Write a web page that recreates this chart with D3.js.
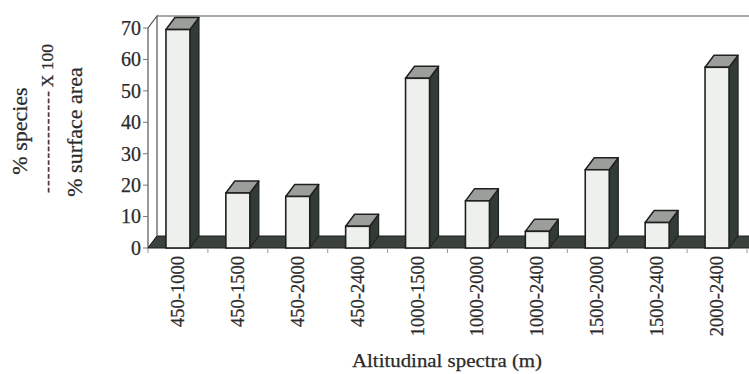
<!DOCTYPE html>
<html>
<head>
<meta charset="utf-8">
<script src="https://cdn.jsdelivr.net/npm/d3@7/dist/d3.min.js"></script>
<style>
  html, body { margin: 0; padding: 0; background: #fff; }
  svg { display: block; }
  text { font-family: "Liberation Serif", "Times New Roman", serif; fill: #2a2a2a; stroke: #2a2a2a; stroke-width: 0.25px; }
</style>
</head>
<body>
<svg id="chart" width="749" height="374"></svg>
<script>
// Altitudinal spectra and species-per-area ratio (x 100)
const categories = ["450-1000", "450-1500", "450-2000", "450-2400", "1000-1500",
                    "1000-2000", "1000-2400", "1500-2000", "1500-2400", "2000-2400"];
const ratioValues = [69.5, 17.5, 16.4, 6.9, 54.0, 15.0, 5.3, 24.9, 8.1, 57.5];
const yTicks = [0, 10, 20, 30, 40, 50, 60, 70];

const svg = d3.select("#chart");

// 3D depth offset used for walls, floor and columns
const DX = 9, DY = -12;
const plotLeft = 148, plotBottom = 248, plotTop = 28;
const step = 59.9;

const x = d3.scaleBand()
  .domain(categories)
  .range([plotLeft, plotLeft + step * categories.length])
  .padding(0);
const y = d3.scaleLinear().domain([0, 70]).range([plotBottom, plotTop]);

const colFront = "#eef0ee", colTop = "#9c9e9c", colSide = "#333b36";
const colFloor = "#3b413d", colLine = "#1e221f";

// back frame line along the top of the plot area
svg.append("line")
  .attr("x1", plotLeft + DX).attr("y1", y(70) + DY)
  .attr("x2", 749).attr("y2", y(70) + DY)
  .attr("stroke", "#555").attr("stroke-width", 1.2);

// left side wall
svg.append("polygon")
  .attr("points", [[plotLeft, y(0)], [plotLeft, y(70)], [plotLeft + DX, y(70) + DY], [plotLeft + DX, y(0) + DY]].join(" "))
  .attr("fill", "#fff").attr("stroke", "#555").attr("stroke-width", 1.2);

// floor
const floorRight = 760;
svg.append("polygon")
  .attr("points", [[plotLeft, y(0)], [floorRight, y(0)], [floorRight + DX, y(0) + DY], [plotLeft + DX, y(0) + DY]].join(" "))
  .attr("fill", colFloor).attr("stroke", colLine).attr("stroke-width", 1);

// y axis ticks and labels
svg.append("g").selectAll("line").data(yTicks).join("line")
  .attr("x1", plotLeft - 5).attr("x2", plotLeft)
  .attr("y1", d => y(d)).attr("y2", d => y(d))
  .attr("stroke", "#777").attr("stroke-width", 1);
svg.append("g").selectAll("text").data(yTicks).join("text")
  .attr("x", plotLeft - 7).attr("y", d => y(d))
  .attr("dy", "0.34em")
  .attr("text-anchor", "end")
  .attr("font-size", 20)
  .text(d => d);

// x axis ticks at category boundaries
const bounds = categories.map(c => x(c)).concat([x(categories[categories.length - 1]) + x.bandwidth()]);
svg.append("g").selectAll("line").data(bounds).join("line")
  .attr("x1", d => d).attr("x2", d => d)
  .attr("y1", y(0)).attr("y2", y(0) + 5)
  .attr("stroke", "#999").attr("stroke-width", 1);

// 3D columns
const barW = 24;
const bars = svg.append("g").selectAll("g").data(categories.map((c, i) => ({ c, v: ratioValues[i] }))).join("g");
bars.each(function (d) {
  const g = d3.select(this);
  const x0 = x(d.c) + (x.bandwidth() - barW) / 2;
  const yt = y(d.v), yb = y(0);
  g.append("polygon")
    .attr("points", [[x0 + barW, yt], [x0 + barW + DX, yt + DY], [x0 + barW + DX, yb + DY], [x0 + barW, yb]].join(" "))
    .attr("fill", colSide).attr("stroke", colLine).attr("stroke-width", 1.2).attr("stroke-linejoin", "round");
  g.append("polygon")
    .attr("points", [[x0, yt], [x0 + DX, yt + DY], [x0 + barW + DX, yt + DY], [x0 + barW, yt]].join(" "))
    .attr("fill", colTop).attr("stroke", colLine).attr("stroke-width", 1.5).attr("stroke-linejoin", "round");
  g.append("rect")
    .attr("x", x0).attr("y", yt).attr("width", barW).attr("height", yb - yt)
    .attr("fill", colFront).attr("stroke", colLine).attr("stroke-width", 1.6);
});

// category labels, rotated
svg.append("g").selectAll("text").data(categories).join("text")
  .attr("transform", d => `translate(${x(d) + x.bandwidth() / 2 + 6},${y(0) + 8}) rotate(-90)`)
  .attr("text-anchor", "end")
  .attr("font-size", 18.5)
  .text(d => d);

// x axis title
svg.append("text")
  .attr("x", 447).attr("y", 367)
  .attr("text-anchor", "middle")
  .attr("font-size", 19)
  .attr("textLength", 190)
  .attr("lengthAdjust", "spacingAndGlyphs")
  .text("Altitudinal spectra (m)");

// y axis title as a fraction: numerator, fraction bar with factor, denominator
svg.append("text")
  .attr("transform", "translate(27,131) rotate(-90)")
  .attr("text-anchor", "middle")
  .attr("font-size", 22)
  .text("% species");
svg.append("text")
  .attr("transform", "translate(53,44) rotate(-90)")
  .attr("text-anchor", "end")
  .attr("font-size", 17.5)
  .text("X 100");
svg.append("text")
  .attr("transform", "translate(53,90) rotate(-90)")
  .attr("text-anchor", "end")
  .attr("font-size", 17)
  .attr("letter-spacing", 1.2)
  .attr("stroke-width", 0.6)
  .text("---------------");
svg.append("text")
  .attr("transform", "translate(82,132) rotate(-90)")
  .attr("text-anchor", "middle")
  .attr("font-size", 22)
  .text("% surface area");
</script>
</body>
</html>
